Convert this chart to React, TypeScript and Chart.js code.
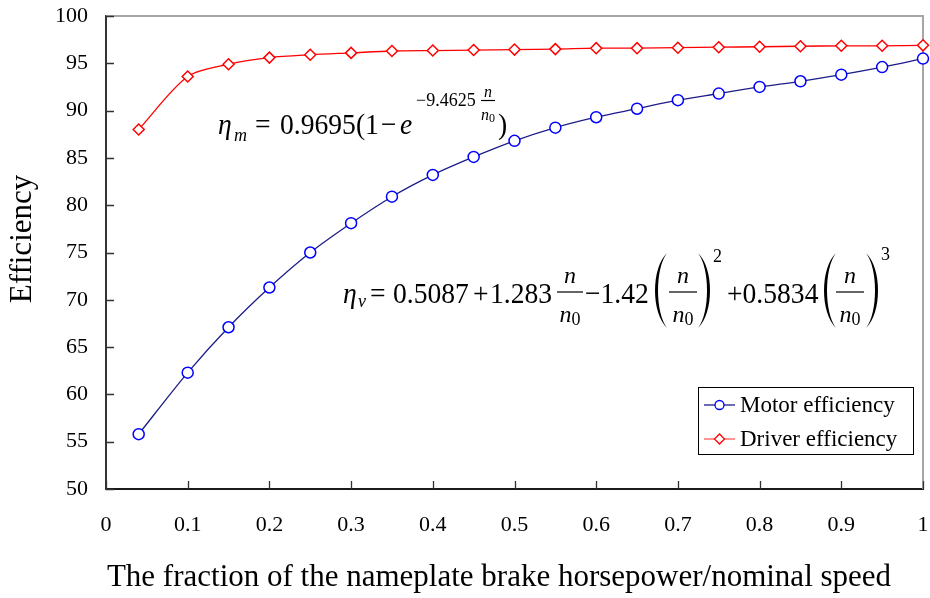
import React, { useEffect, useRef } from "react";
import { Chart, registerables } from "chart.js";

Chart.register(...registerables);

// Load fraction n/n0 at which both efficiencies were evaluated
const loadFractions = [
  0.04, 0.1, 0.15, 0.2, 0.25, 0.3, 0.35, 0.4, 0.45, 0.5,
  0.55, 0.6, 0.65, 0.7, 0.75, 0.8, 0.85, 0.9, 0.95, 1.0,
];

// Efficiency in percent
const motorEfficiency = [
  55.8, 62.3, 67.1, 71.3, 75.0, 78.1, 80.9, 83.2, 85.1, 86.8,
  88.2, 89.3, 90.2, 91.1, 91.8, 92.5, 93.1, 93.8, 94.6, 95.5,
];
const driverEfficiency = [
  88.0, 93.6, 94.9, 95.6, 95.9, 96.1, 96.3, 96.35, 96.4, 96.45,
  96.5, 96.6, 96.6, 96.65, 96.7, 96.75, 96.8, 96.85, 96.85, 96.9,
];

const seriesNames = ["Motor efficiency", "Driver efficiency"];

const xTicks = [0, 0.1, 0.2, 0.3, 0.4, 0.5, 0.6, 0.7, 0.8, 0.9, 1];
const xTickLabels = ["0", "0.1", "0.2", "0.3", "0.4", "0.5", "0.6", "0.7", "0.8", "0.9", "1"];
const yTicks = [50, 55, 60, 65, 70, 75, 80, 85, 90, 95, 100];
const yTickLabels = ["50", "55", "60", "65", "70", "75", "80", "85", "90", "95", "100"];

const xAxisTitle = "The fraction of the nameplate brake horsepower/nominal speed";
const yAxisTitle = "Efficiency";

const SERIF = "'Liberation Serif', 'Times New Roman', Times, serif";

const MOTOR_LINE = "#1c1c8a";
const MOTOR_MARK = "#0000ff";
const DRIVER_LINE = "#ff0000";
const DRIVER_MARK = "#ff0000";

type Ctx = CanvasRenderingContext2D;

function put(ctx: Ctx, s: string, x: number, y: number, size: number, italic = false, sx = 1) {
  ctx.save();
  ctx.font = `${italic ? "italic " : ""}${size}px ${SERIF}`;
  ctx.textAlign = "left";
  ctx.textBaseline = "alphabetic";
  ctx.fillStyle = "#000";
  ctx.translate(x, y);
  ctx.scale(sx, 1);
  ctx.fillText(s, 0, 0);
  ctx.restore();
}

function rule(ctx: Ctx, x1: number, x2: number, y: number, w = 1.2) {
  ctx.save();
  ctx.strokeStyle = "#000";
  ctx.lineWidth = w;
  ctx.beginPath();
  ctx.moveTo(x1, y);
  ctx.lineTo(x2, y);
  ctx.stroke();
  ctx.restore();
}

// Tall parenthesis as a filled crescent; xEnd is where the tips sit,
// xOuter/xInner are the bezier control columns of the two edges.
function bigParen(ctx: Ctx, xEnd: number, xOuter: number, xInner: number, top: number, bottom: number) {
  const h = bottom - top;
  ctx.save();
  ctx.fillStyle = "#000";
  ctx.beginPath();
  ctx.moveTo(xEnd, top);
  ctx.bezierCurveTo(xOuter, top + 0.2 * h, xOuter, bottom - 0.2 * h, xEnd, bottom);
  ctx.bezierCurveTo(xInner, bottom - 0.2 * h, xInner, top + 0.2 * h, xEnd, top);
  ctx.closePath();
  ctx.fill();
  ctx.restore();
}

// Fraction n / n0 centred on cx
function nFrac(ctx: Ctx, cx: number, barY: number, barHalf: number, numBase: number, denBase: number, size: number, subSize: number) {
  ctx.save();
  ctx.font = `italic ${size}px ${SERIF}`;
  const wn = ctx.measureText("n").width;
  ctx.font = `${subSize}px ${SERIF}`;
  const w0 = ctx.measureText("0").width;
  ctx.restore();
  put(ctx, "n", cx - wn / 2, numBase, size, true);
  rule(ctx, cx - barHalf, cx + barHalf, barY, 1.2);
  const dx = cx - (wn + w0) / 2;
  put(ctx, "n", dx, denBase, size, true);
  put(ctx, "0", dx + wn, denBase + size * 0.12, subSize);
}

const framePlugin = {
  id: "frameAndTicks",
  beforeDatasetsDraw(chart: any) {
    const { ctx, chartArea, scales } = chart;
    const { left, right, top, bottom } = chartArea;
    ctx.save();
    // light frame on the top and right edges
    ctx.strokeStyle = "#a6a6a6";
    ctx.lineWidth = 2;
    ctx.beginPath();
    ctx.moveTo(left, top);
    ctx.lineTo(right, top);
    ctx.lineTo(right, bottom);
    ctx.stroke();
    // inward tick marks
    ctx.strokeStyle = "#333";
    ctx.lineWidth = 1.3;
    ctx.beginPath();
    for (const v of yTicks) {
      const y = Math.round(scales.y.getPixelForValue(v)) + 0.5;
      ctx.moveTo(left, y);
      ctx.lineTo(left + 8, y);
    }
    for (const v of xTicks) {
      const x = Math.round(scales.x.getPixelForValue(v)) + 0.5;
      ctx.moveTo(x, bottom);
      ctx.lineTo(x, bottom - 8);
    }
    ctx.stroke();
    ctx.restore();
  },
};

const overlayPlugin = {
  id: "overlay",
  afterDatasetsDraw(chart: any) {
    const ctx: Ctx = chart.ctx;
    const MAIN = 30;
    const SX = 0.92;

    // eta_m = 0.9695(1 - e^(-9.4625 n/n0))
    {
      const b = 134;
      put(ctx, "\u03b7", 218, b, MAIN, true, SX);
      put(ctx, "m", 234, b + 7, 18, true);
      put(ctx, "=", 255, b, MAIN, false, SX);
      put(ctx, "0.9695(1", 280, b, MAIN, false, SX);
      put(ctx, "\u2212", 381, b, MAIN, false, SX);
      put(ctx, "e", 400, b, MAIN, true, SX);
      put(ctx, "\u22129.4625", 416, 106, 18);
      nFrac(ctx, 488, 100.5, 7, 97, 120, 16, 12);
      put(ctx, ")", 498, b, MAIN, false, SX);
    }

    // eta_v = 0.5087 + 1.283 n/n0 - 1.42 (n/n0)^2 + 0.5834 (n/n0)^3
    {
      const b = 303;
      put(ctx, "\u03b7", 343, b, MAIN, true, SX);
      put(ctx, "v", 358, b + 4, 18, true);
      put(ctx, "=", 370, b, MAIN, false, SX);
      put(ctx, "0.5087", 393, b, MAIN, false, SX);
      put(ctx, "+", 473, b, MAIN, false, SX);
      put(ctx, "1.283", 490, b, MAIN, false, SX);
      nFrac(ctx, 570, 292, 13, 283, 322, 24, 18);
      put(ctx, "\u22121.42", 585, b, MAIN, false, SX);
      bigParen(ctx, 667, 651, 655, 253, 328);
      nFrac(ctx, 683, 292, 14, 283, 322, 24, 18);
      bigParen(ctx, 698, 714, 710, 253, 328);
      put(ctx, "2", 713, 262, 18);
      put(ctx, "+0.5834", 727, b, MAIN, false, SX);
      bigParen(ctx, 836, 820, 824, 253, 328);
      nFrac(ctx, 850, 292, 14, 283, 322, 24, 18);
      bigParen(ctx, 866, 882, 878, 253, 328);
      put(ctx, "3", 881, 260, 18);
    }

    // legend box
    {
      const ds = chart.data.datasets;
      const bx = 698.5, by = 387.5, bw = 215, bh = 67;
      ctx.save();
      ctx.fillStyle = "#fff";
      ctx.fillRect(bx, by, bw, bh);
      ctx.strokeStyle = "#000";
      ctx.lineWidth = 1;
      ctx.strokeRect(bx, by, bw, bh);
      const rows = [405, 439];
      rows.forEach((ry, i) => {
        const d = ds[i];
        ctx.strokeStyle = i === 0 ? d.borderColor : "#ff5a5a";
        ctx.lineWidth = 1.3;
        ctx.beginPath();
        ctx.moveTo(704, ry);
        ctx.lineTo(735, ry);
        ctx.stroke();
        ctx.fillStyle = "#fff";
        ctx.strokeStyle = d.pointBorderColor;
        ctx.lineWidth = 1.3;
        ctx.beginPath();
        if (d.pointStyle === "circle") {
          ctx.arc(719.5, ry, 4.5, 0, Math.PI * 2);
        } else {
          ctx.moveTo(719.5, ry - 5);
          ctx.lineTo(724.5, ry);
          ctx.lineTo(719.5, ry + 5);
          ctx.lineTo(714.5, ry);
          ctx.closePath();
        }
        ctx.fill();
        ctx.stroke();
        ctx.fillStyle = "#000";
        ctx.font = `23px ${SERIF}`;
        ctx.textAlign = "left";
        ctx.textBaseline = "middle";
        ctx.fillText(d.label, 740, ry + 1);
      });
      ctx.restore();
    }

    // axis titles
    ctx.save();
    ctx.fillStyle = "#000";
    ctx.font = `31px ${SERIF}`;
    ctx.textAlign = "center";
    ctx.textBaseline = "middle";
    ctx.fillText(xAxisTitle, 499, 578);
    ctx.translate(23, 239);
    ctx.rotate(-Math.PI / 2);
    ctx.fillText(yAxisTitle, 0, 0);
    ctx.restore();
  },
};

export default function App() {
  const canvasRef = useRef<HTMLCanvasElement | null>(null);

  useEffect(() => {
    document.body.style.margin = "0";
    const canvas = canvasRef.current;
    if (!canvas) return;
    Chart.defaults.font.family = SERIF;
    Chart.defaults.color = "#000";

    const chart = new Chart(canvas, {
      type: "line",
      data: {
        datasets: [
          {
            label: seriesNames[0],
            data: loadFractions.map((x, i) => ({ x, y: motorEfficiency[i] })),
            borderColor: MOTOR_LINE,
            borderWidth: 1.3,
            pointStyle: "circle",
            pointRadius: 5.5,
            pointBorderColor: MOTOR_MARK,
            pointBackgroundColor: "#ffffff",
            pointBorderWidth: 1.5,
            tension: 0.3,
            clip: false,
          } as any,
          {
            label: seriesNames[1],
            data: loadFractions.map((x, i) => ({ x, y: driverEfficiency[i] })),
            borderColor: DRIVER_LINE,
            borderWidth: 1.3,
            pointStyle: "rectRot",
            pointRadius: 5.5,
            pointBorderColor: DRIVER_MARK,
            pointBackgroundColor: "#ffffff",
            pointBorderWidth: 1.5,
            tension: 0.3,
            clip: false,
          } as any,
        ],
      },
      options: {
        responsive: false,
        animation: false,
        events: [],
        layout: { padding: { top: 16, right: 6, left: 0, bottom: 0 } },
        plugins: {
          legend: { display: false },
          tooltip: { enabled: false },
        },
        scales: {
          x: {
            type: "linear",
            min: 0,
            max: 1,
            afterBuildTicks: (s: any) => {
              s.ticks = xTicks.map((v) => ({ value: v }));
            },
            afterFit: (s: any) => {
              s.height = 109;
              s.paddingLeft = 0;
              s.paddingRight = 0;
            },
            ticks: {
              callback: (_v: any, i: number) => xTickLabels[i],
              padding: 23,
              font: { size: 22 },
              color: "#000",
              maxRotation: 0,
              autoSkip: false,
            },
            grid: { display: false, drawTicks: false },
            border: { display: true, color: "#1a1a1a", width: 2 },
          },
          y: {
            type: "linear",
            min: 50,
            max: 100,
            afterBuildTicks: (s: any) => {
              s.ticks = yTicks.map((v) => ({ value: v }));
            },
            afterFit: (s: any) => {
              s.width = 106;
              s.paddingTop = 0;
              s.paddingBottom = 0;
            },
            ticks: {
              callback: (_v: any, i: number) => yTickLabels[i],
              padding: 18,
              font: { size: 22 },
              color: "#000",
              autoSkip: false,
            },
            grid: { display: false, drawTicks: false },
            border: { display: true, color: "#333333", width: 2 },
          },
        },
      },
      plugins: [framePlugin, overlayPlugin],
    });
    return () => chart.destroy();
  }, []);

  return (
    <div style={{ width: 930, height: 598, background: "#fff" }}>
      <canvas ref={canvasRef} width={930} height={598} style={{ display: "block" }} />
    </div>
  );
}
